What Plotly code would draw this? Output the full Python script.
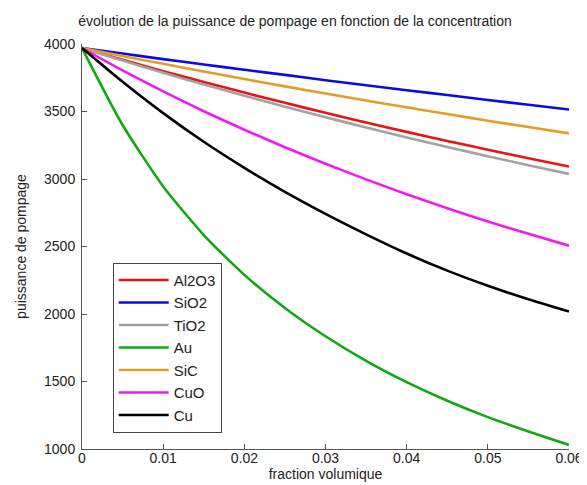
import plotly.graph_objects as go

fraction = [0.0, 0.005, 0.01, 0.015, 0.02, 0.025, 0.03, 0.035, 0.04, 0.045, 0.05, 0.055, 0.06]

al2o3 = [3970, 3883, 3799, 3718, 3640, 3564, 3490, 3419, 3349, 3282, 3217, 3154, 3092]
sio2 = [3970, 3929, 3888, 3848, 3809, 3771, 3732, 3695, 3658, 3622, 3585, 3550, 3515]
tio2 = [3970, 3877, 3787, 3700, 3617, 3535, 3457, 3382, 3308, 3237, 3169, 3102, 3038]
au = [3970, 3400, 2945, 2585, 2290, 2045, 1835, 1653, 1495, 1357, 1236, 1130, 1030]
sic = [3970, 3911, 3853, 3796, 3741, 3686, 3633, 3581, 3531, 3481, 3432, 3385, 3338]
cuo = [3970, 3804, 3649, 3502, 3365, 3235, 3113, 2997, 2887, 2783, 2686, 2594, 2506]
cu = [3970, 3720, 3488, 3276, 3083, 2905, 2742, 2590, 2448, 2321, 2209, 2109, 2018]

series = [
    ("Al2O3", al2o3, "#ee1111"),
    ("SiO2", sio2, "#0a0ae6"),
    ("TiO2", tio2, "#a3a3a3"),
    ("Au", au, "#12a812"),
    ("SiC", sic, "#e59c25"),
    ("CuO", cuo, "#f21af2"),
    ("Cu", cu, "#000000"),
]

x_ticks = [0, 0.01, 0.02, 0.03, 0.04, 0.05, 0.06]
x_tick_labels = ["0", "0.01", "0.02", "0.03", "0.04", "0.05", "0.06"]
y_ticks = [1000, 1500, 2000, 2500, 3000, 3500, 4000]

FONT = "Arial, Liberation Sans, Helvetica, sans-serif"

fig = go.Figure()
for name, vals, color in series:
    fig.add_trace(go.Scatter(
        x=fraction, y=vals, name=name, mode="lines",
        line=dict(color=color, width=2.6, shape="spline", smoothing=0.6),
    ))

axis_color = "#555555"
fig.update_layout(
    width=587, height=485,
    margin=dict(l=69, r=21, t=36, b=44),
    paper_bgcolor="white", plot_bgcolor="white",
    font=dict(family=FONT, size=13, color="#222222"),
    title=dict(
        text="évolution de la puissance de pompage en fonction de la concentration",
        x=0.489, xanchor="center", y=0.972, yanchor="middle",
        font=dict(family=FONT, size=14, color="#222222"),
    ),
    showlegend=True,
    legend=dict(
        x=0.063, y=0.46, xanchor="left", yanchor="top",
        bgcolor="white", bordercolor="#444444", borderwidth=1,
        font=dict(family=FONT, size=15, color="#222222"),
        itemwidth=50, tracegroupgap=0,
    ),
    xaxis=dict(
        range=[0, 0.06], tickvals=x_ticks, ticktext=x_tick_labels,
        showline=True, linecolor=axis_color, linewidth=1, mirror=False,
        ticks="inside", ticklen=5, tickcolor=axis_color, showgrid=False, zeroline=False,
        ticklabelstandoff=-4,
        tickfont=dict(family=FONT, size=14, color="#222222"),
        title=dict(text="fraction volumique", standoff=2,
                   font=dict(family=FONT, size=14, color="#222222")),
    ),
    yaxis=dict(
        range=[1000, 4000], tickvals=y_ticks,
        showline=True, linecolor=axis_color, linewidth=1, mirror=False,
        ticks="inside", ticklen=5, tickcolor=axis_color, showgrid=False, zeroline=False,
        ticklabelstandoff=3,
        tickfont=dict(family=FONT, size=14, color="#222222"),
        title=dict(text="puissance de pompage", standoff=14,
                   font=dict(family=FONT, size=14, color="#222222")),
    ),
)

fig.write_html("out.html")
